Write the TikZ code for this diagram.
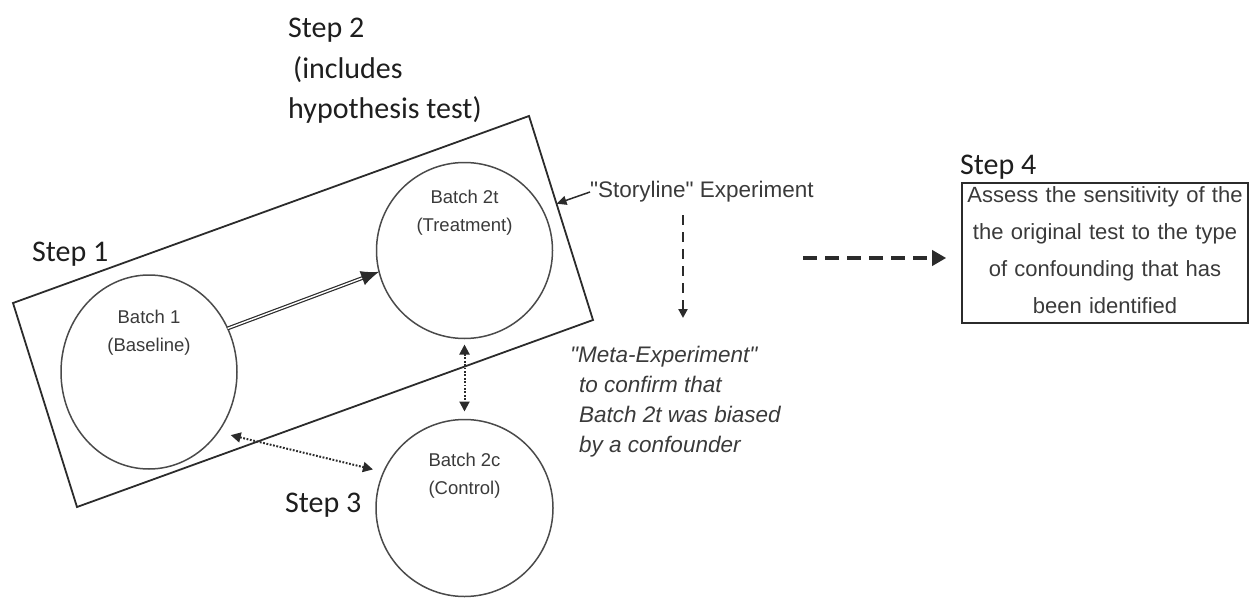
\documentclass[tikz,border=0pt]{standalone}
\usepackage{fontspec}
\newfontfamily\arial{Liberation Sans}
\newfontfamily\stepfont{Carlito}
\usetikzlibrary{arrows.meta,shapes.geometric,calc}
\definecolor{ink}{HTML}{2B2B2B}
\definecolor{circink}{HTML}{4A4A4A}
\definecolor{txt}{HTML}{3A3A3A}
\definecolor{stepink}{HTML}{1E1E1E}
\begin{document}
\begin{tikzpicture}[x=1pt,y=-1pt,
  batch/.style={draw=circink, line width=1.5pt, inner sep=0pt, outer sep=0pt},
  btext/.style={font=\arial\fontsize{18.5}{28}\selectfont, text=txt, align=center, inner sep=0pt},
  steplabel/.style={font=\stepfont\fontsize{30}{40.5}\selectfont, text=stepink, inner sep=0pt, align=left},
  etext/.style={font=\arial\fontsize{22.5}{30}\selectfont, text=txt, inner sep=0pt},
  frame/.style={draw=ink, line width=1.8pt, line join=miter},
  dotarrow/.style={draw=ink, line width=2pt, dash pattern=on 1.8pt off 1.6pt,
    {Triangle[length=10pt,width=10pt]}-{Triangle[length=10pt,width=10pt]}},
  dasharrow/.style={draw=ink, line width=2.8pt, dash pattern=on 10pt off 7pt,
    -{Triangle[length=9pt,width=9pt]}},
  bigdash/.style={draw=ink, line width=4pt, dash pattern=on 14pt off 8pt,
    -{Triangle[length=14pt,width=15pt]}},
]
\useasboundingbox (0,0) rectangle (1252,599);

% the "storyline" experiment frame
\coordinate (fA) at (13,303);
\coordinate (fB) at (529,116);
\coordinate (fC) at (593,320);
\coordinate (fD) at (77,507);
\draw[frame] (fA) -- (fB) -- (fC) -- (fD) -- cycle;

% batches
\node[batch, ellipse, minimum width=176pt, minimum height=194pt,
  label={[btext, anchor=north, yshift=-35pt]north:Batch 1\\(Baseline)}] (b1) at (149,372) {};
\node[batch, circle, minimum size=176pt,
  label={[btext, anchor=north, yshift=-27pt]north:Batch 2t\\(Treatment)}] (b2t) at (464.5,250.5) {};
\node[batch, circle, minimum size=177pt,
  label={[btext, anchor=north, yshift=-33pt]north:Batch 2c\\(Control)}] (b2c) at (464.5,508) {};

% step labels
\node[steplabel, anchor=north west] (s1) at (32,242) {Step 1};
\node[steplabel, anchor=north west] (s2) at (288,18) {Step 2\\\hspace*{5pt}(includes\\hypothesis test)};
\node[steplabel, anchor=north west] (s3) at (285,493) {Step 3};
\node[steplabel, anchor=north west] (s4) at (960,155) {Step 4};

% texts on the right
\node[etext, anchor=west] (story) at (590,192) {"Storyline" Experiment};
\node[etext, anchor=north west, align=left, font=\arial\fontsize{22.5}{30}\selectfont\itshape] (meta) at (570,346)
  {"Meta-Experiment"\\\hspace*{9pt}to confirm that\\\hspace*{9pt}Batch 2t was biased\\\hspace*{9pt}by a confounder};
\node[draw=ink, line width=1.6pt, minimum width=286pt, minimum height=140pt, inner sep=0pt] (box) at (1105,253) {};
\node[text width=284pt, align=center, text=txt, inner sep=0pt,
  font=\arial\fontsize{22}{37}\selectfont] (boxtext) at (1105,250)
  {Assess the sensitivity of the\\the original test to the type\\of confounding that has\\been identified};

% connectors
\draw[draw=ink, line width=1.2pt, double=white, double distance=1.4pt,
  -{Latex[length=18pt,width=15pt]}] (b1.29) -- (b2t.194);
\draw[dotarrow, shorten <=6pt, shorten >=8pt] (b2t.south) -- (b2c.north);
\draw[dotarrow, shorten <=13pt, shorten >=11pt] (b1.-41.7) -- (b2c.156.3);
\draw[draw=ink, line width=1.5pt, -{Triangle[length=10pt,width=9pt]}]
  (story.west) -- ($(fB)!0.43!(fC)$);
\coordinate (v0) at (683,215);
\draw[dasharrow, shorten >=28pt] (v0) -- (v0 |- meta.north);
\coordinate (h0) at (803,258);
\draw[bigdash, shorten >=15pt] (h0) -- (h0 -| box.west);
\end{tikzpicture}
\end{document}
